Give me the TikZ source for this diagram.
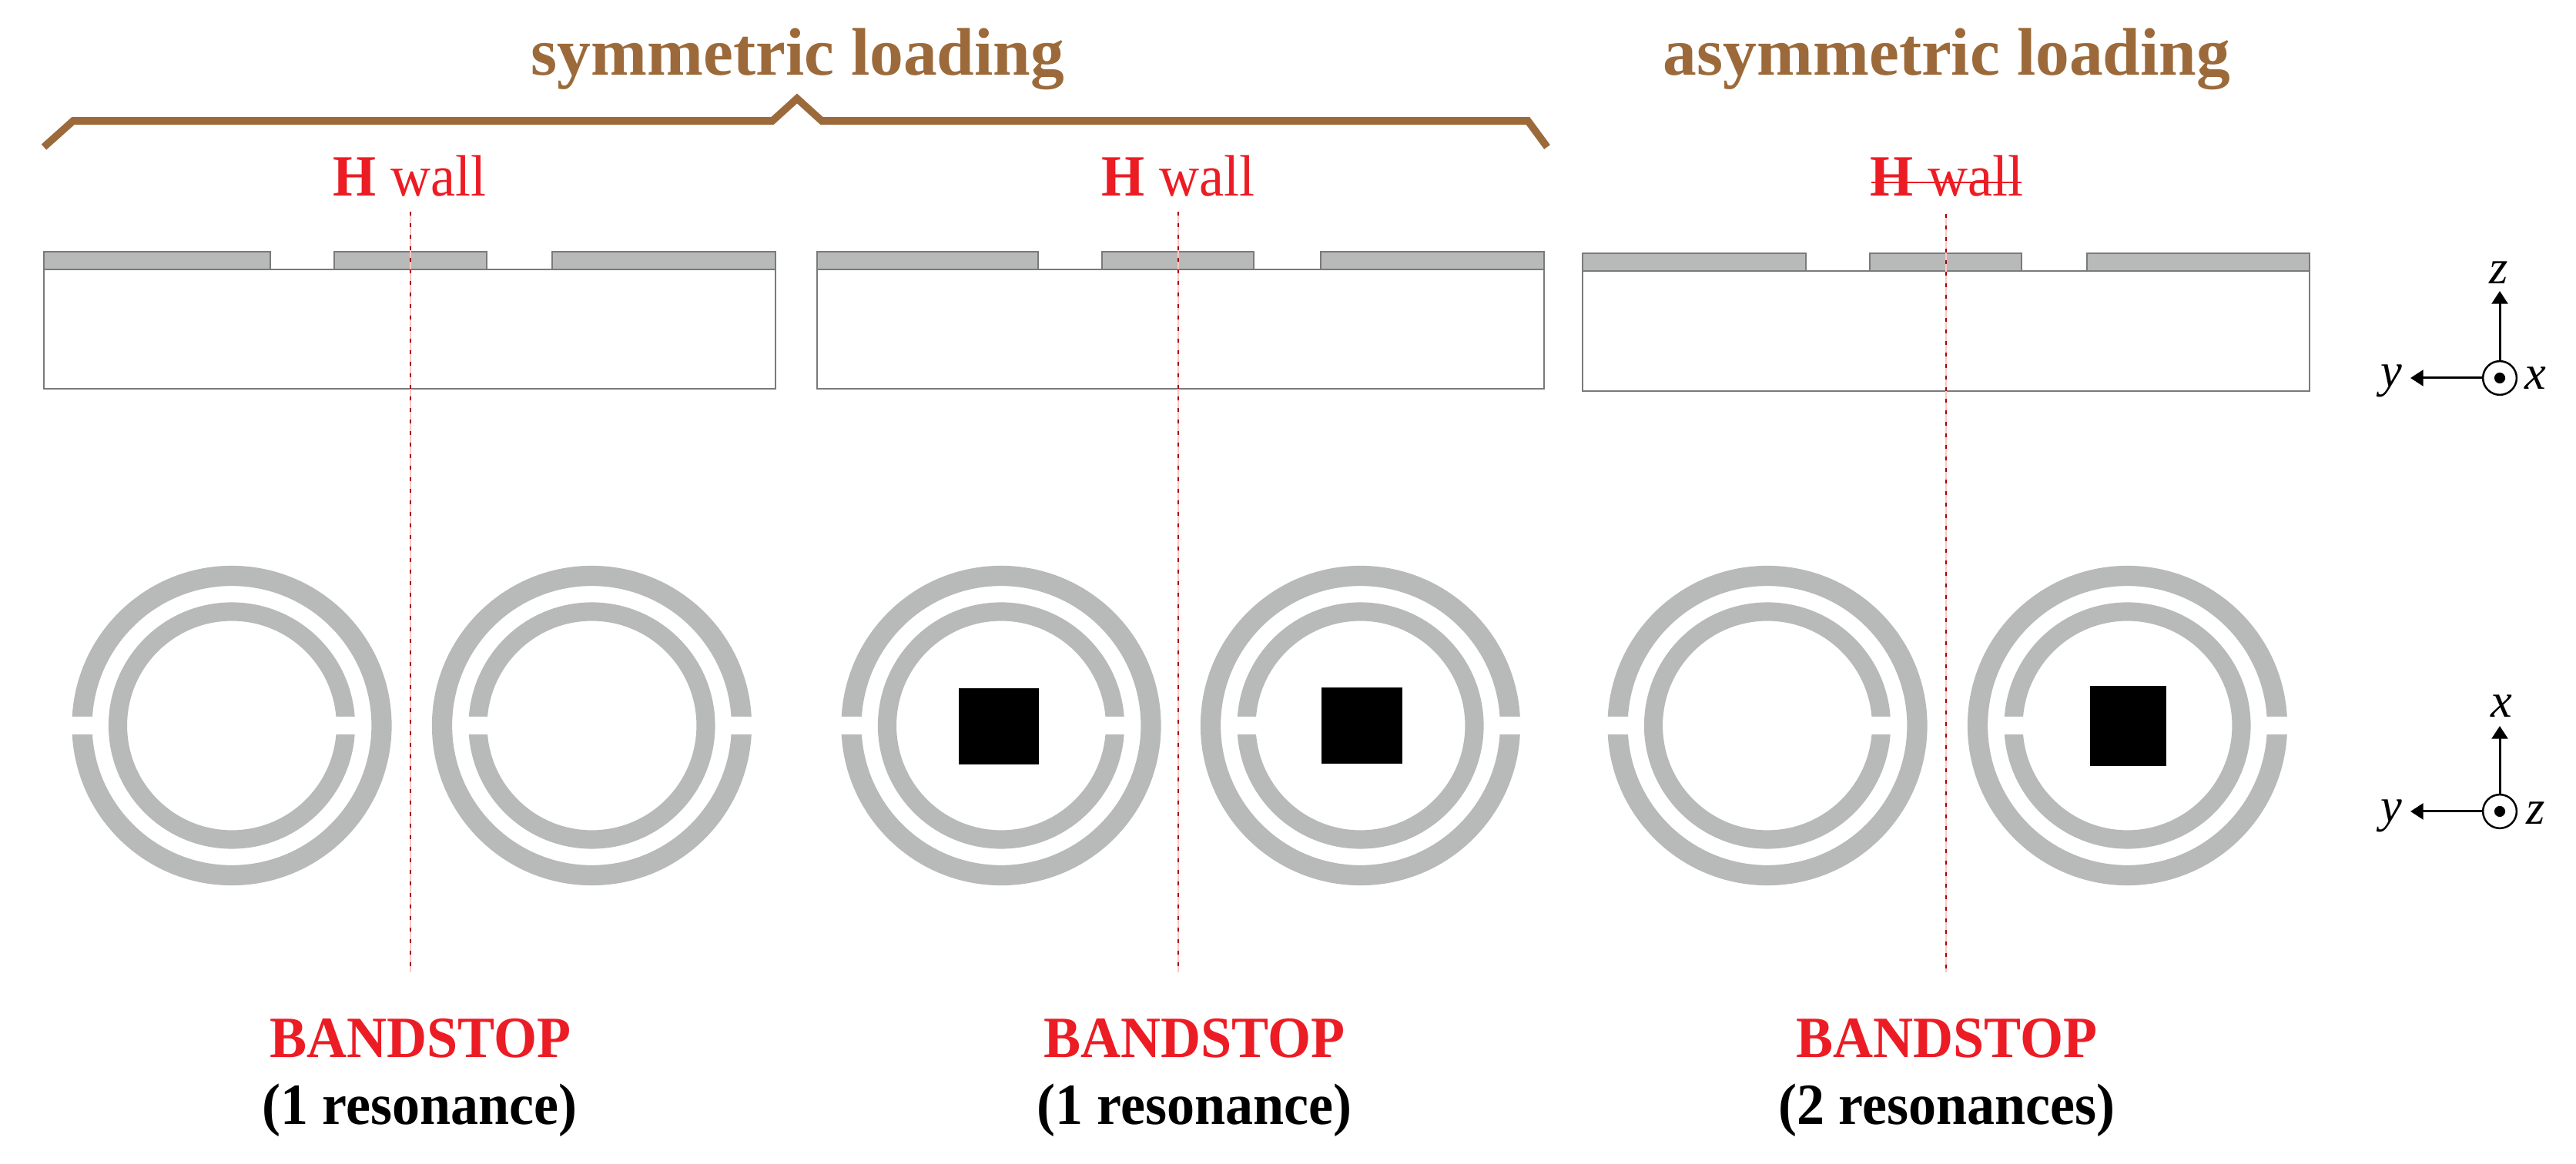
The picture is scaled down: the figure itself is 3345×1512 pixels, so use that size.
\documentclass[tikz,border=0pt]{standalone}
\usepackage{fontspec}
\setmainfont{Liberation Serif}
\newfontfamily\condfont[FakeStretch=0.95]{Liberation Serif}
\usetikzlibrary{arrows.meta}

\definecolor{bracecol}{RGB}{156,106,58}
\definecolor{metalcol}{RGB}{184,185,185}
\definecolor{edgecol}{RGB}{122,122,124}
\definecolor{wallcol}{RGB}{236,28,36}

\tikzset{
	every picture/.style={line width=0.75pt},
	metal/.style={draw=edgecol,fill=metalcol,line width=0.7pt},
	slab/.style={draw=edgecol,line width=0.6pt},
	outerring/.style={draw=metalcol,line width=6.3pt},
	innerring/.style={draw=metalcol,line width=5.8pt},
	gapcut/.style={fill=white},
	patch/.style={fill=black},
	wallline/.style={draw=red!65!black,line width=0.7pt,dash pattern=on 1.3pt off 2.3pt,preaction={draw=red!22,line width=0.4pt,solid}},
	title/.style={anchor=base,inner sep=0pt,text=bracecol,font=\fontsize{21}{24}\selectfont\bfseries},
	walltext/.style={anchor=base,inner sep=0pt,text=wallcol,font=\condfont\fontsize{18.2}{20}\selectfont},
	stoptext/.style={anchor=base,inner sep=0pt,text=wallcol,font=\condfont\fontsize{18.2}{20}\selectfont\bfseries},
	restext/.style={anchor=base,inner sep=0pt,font=\condfont\fontsize{18.2}{20}\selectfont\bfseries},
	axislabel/.style={inner sep=0pt,font=\fontsize{15}{17}\selectfont\itshape},
	axiscircle/.style={draw,circle,inner sep=0pt,minimum size=10.5pt,line width=0.6pt},
	axisdot/.style={fill,circle,inner sep=0pt,minimum size=3.4pt},
	axisarrow/.style={line width=0.72pt,-{Triangle[length=4pt,width=5pt]}}
}

\begin{document}
\begin{tikzpicture}[x=0.24pt,y=0.24pt,yscale=-1,xscale=1]
	\useasboundingbox (0,0) rectangle (3345,1512);

	%Shape: Brace
	\draw [draw=bracecol,line width=2.3pt,line join=miter] (57,191) -- (95,157) -- (1003,157) -- (1035,128) -- (1067,157) -- (1984,157) -- (2009,191) ;

	%Shape: Slab left
	\draw [slab] (57,350) rectangle (1007,505) ;
	\draw [metal] (57,327) rectangle (351,350) ;
	\draw [metal] (434,327) rectangle (632,350) ;
	\draw [metal] (717,327) rectangle (1007,350) ;
	%Shape: Slab middle
	\draw [slab] (1061,350) rectangle (2005,505) ;
	\draw [metal] (1061,327) rectangle (1348,350) ;
	\draw [metal] (1431,327) rectangle (1628,350) ;
	\draw [metal] (1715,327) rectangle (2005,350) ;
	%Shape: Slab right
	\draw [slab] (2055,352) rectangle (2999,508) ;
	\draw [metal] (2055,329) rectangle (2345,352) ;
	\draw [metal] (2428,329) rectangle (2625,352) ;
	\draw [metal] (2710,329) rectangle (2999,352) ;

	%Shape: Rings left pair
	\draw [outerring] (301,942.5) circle (194.5) ;
	\draw [innerring] (301,942.5) circle (148) ;
	\fill [gapcut] (84,931) rectangle (125,954) (433,931) rectangle (478,954) ;
	\draw [outerring] (768.5,942.5) circle (194.5) ;
	\draw [innerring] (768.5,942.5) circle (148) ;
	\fill [gapcut] (591,931) rectangle (636,954) (944,931) rectangle (985,954) ;
	%Shape: Rings middle pair
	\draw [outerring] (1300,942.5) circle (194.5) ;
	\draw [innerring] (1300,942.5) circle (148) ;
	\fill [gapcut] (1083,931) rectangle (1124,954) (1432,931) rectangle (1477,954) ;
	\draw [outerring] (1766.5,942.5) circle (194.5) ;
	\draw [innerring] (1766.5,942.5) circle (148) ;
	\fill [gapcut] (1589,931) rectangle (1634,954) (1942,931) rectangle (1983,954) ;
	%Shape: Rings right pair
	\draw [outerring] (2295,942.5) circle (194.5) ;
	\draw [innerring] (2295,942.5) circle (148) ;
	\fill [gapcut] (2078,931) rectangle (2119,954) (2427,931) rectangle (2472,954) ;
	\draw [outerring] (2762.5,942.5) circle (194.5) ;
	\draw [innerring] (2762.5,942.5) circle (148) ;
	\fill [gapcut] (2585,931) rectangle (2630,954) (2938,931) rectangle (2979,954) ;

	%Shape: Square patches
	\fill [patch] (1245,894) rectangle (1349,993) ;
	\fill [patch] (1716,893) rectangle (1821,992) ;
	\fill [patch] (2714,891) rectangle (2813,995) ;

	%Straight Lines: walls
	\draw [wallline] (533,275) -- (533,1263) ;
	\draw [wallline] (1530,275) -- (1530,1263) ;
	\draw [wallline] (2527,278) -- (2527,1263) ;
	\draw [draw=wallcol,line width=0.6pt] (2430,237) -- (2625,237) ;

	% Text Node
	\node (symtitle) [title] at (1036,98) {symmetric loading};
	\node (asymtitle) [title] at (2528,98) {asymmetric loading};
	% Text Node
	\node (walla) [walltext] at (532,255) {\textbf{H} wall};
	\node (wallb) [walltext] at (1530,255) {\textbf{H} wall};
	\node (wallc) [walltext] at (2528,255) {\textbf{H} wall};
	% Text Node
	\node (stopa) [stoptext] at (546,1373) {BANDSTOP};
	\node (stopb) [stoptext] at (1551,1373) {BANDSTOP};
	\node (stopc) [stoptext] at (2528,1373) {BANDSTOP};
	% Text Node
	\node (resa) [restext] at (545,1460) {(1 resonance)};
	\node (resb) [restext] at (1551,1460) {(1 resonance)};
	\node (resc) [restext] at (2528,1460) {(2 resonances)};

	%Shape: Axes upper
	\node (axoa) [axiscircle] at (3246,491) {};
	\node (dota) [axisdot] at (3246,491) {};
	\coordinate (ytipa) at (3130,491);
	\coordinate (ztipa) at (3246,378);
	\draw [axisarrow] (axoa) -- (ytipa) ;
	\draw [axisarrow] (axoa) -- (ztipa) ;
	\node (ylaba) [axislabel] at (3105,495) {y};
	\node (xlaba) [axislabel] at (3292,491) {x};
	\node (zlaba) [axislabel] at (3245,354) {z};
	%Shape: Axes lower
	\node (axob) [axiscircle] at (3246,1054) {};
	\node (dotb) [axisdot] at (3246,1054) {};
	\coordinate (ytipb) at (3130,1054);
	\coordinate (xtipb) at (3246,943);
	\draw [axisarrow] (axob) -- (ytipb) ;
	\draw [axisarrow] (axob) -- (xtipb) ;
	\node (ylabb) [axislabel] at (3105,1060) {y};
	\node (zlabb) [axislabel] at (3293,1056) {z};
	\node (xlabb) [axislabel] at (3248,917) {x};

\end{tikzpicture}
\end{document}
